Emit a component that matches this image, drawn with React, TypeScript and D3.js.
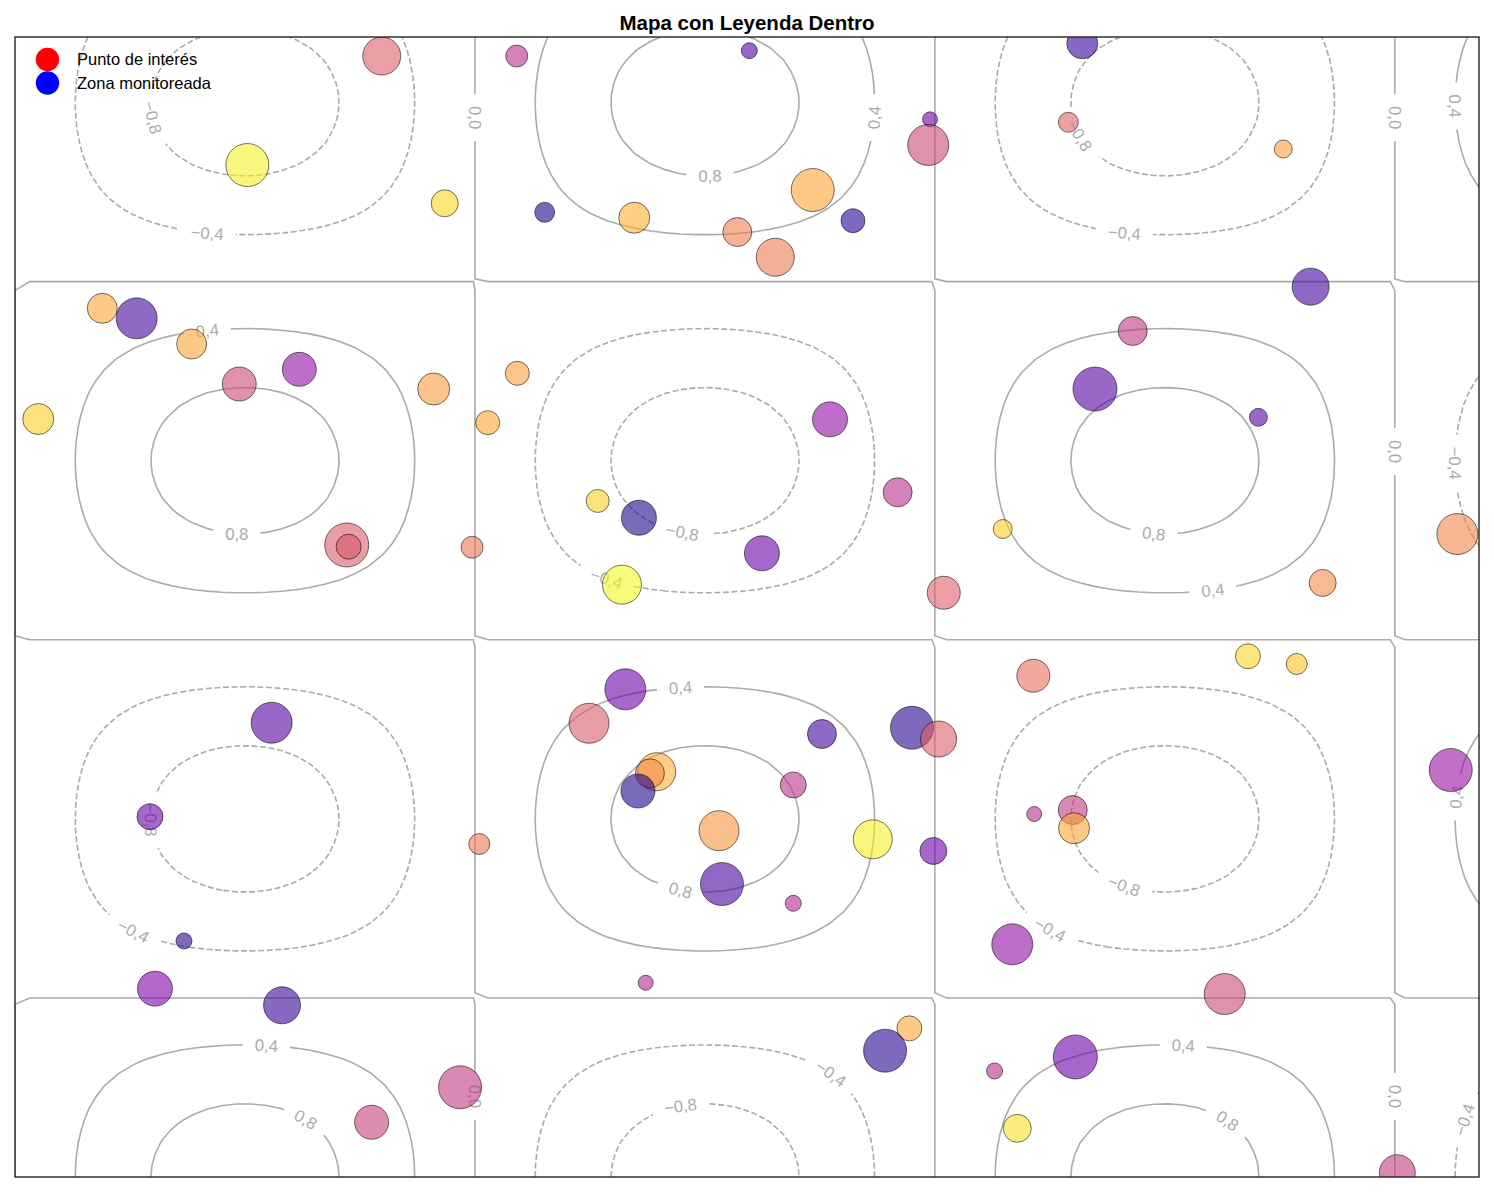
import React, { useMemo } from "react";
import * as d3 from "d3";

// ---------- data ----------
const chartTitle = "Mapa con Leyenda Dentro";
const contourLevels = [-0.8, -0.4, 0, 0.4, 0.8];
const gridCount = 100;
const domainX: [number, number] = [0, 10];
const domainY: [number, number] = [0, 10];
const field = (x: number, y: number) => Math.sin(x) * Math.cos(y);

// scatter points (data units), size (pt^2-like), color value (plasma 0..1)
const pointX = [
  2.505, 1.587, 2.935, 0.596, 0.831, 1.207, 1.532, 1.942, 2.86, 0.159,
  3.427, 5.016, 6.25, 6.238, 5.449, 3.618, 4.23, 4.934, 5.193, 5.724,
  3.431, 5.567, 7.29, 7.195, 8.663, 8.85, 7.635, 7.377, 8.493, 3.229,
  2.266, 2.279, 3.122, 1.753, 3.98, 4.262, 6.029, 5.102, 4.146, 6.344,
  4.169, 3.921, 5.512, 6.127, 6.309, 4.383, 4.337, 4.255, 5.316, 6.747,
  9.852, 8.932, 6.956, 8.422, 8.755, 9.807, 0.922, 3.171, 1.154, 0.956,
  1.824, 3.04, 2.436, 4.809, 4.829, 5.316, 5.859, 6.273, 4.308, 6.109,
  5.943, 6.691, 6.962, 7.225, 7.234, 6.812, 8.263, 7.243, 6.846, 9.442,
];
const pointY = [
  9.833, 8.877, 8.541, 7.62, 7.532, 7.307, 6.956, 7.085, 6.912, 6.649,
  9.833, 9.88, 9.278, 9.053, 8.658, 8.462, 8.415, 8.289, 8.068, 8.389,
  7.05, 6.646, 9.945, 9.252, 9.018, 7.81, 7.421, 6.912, 6.664, 6.617,
  5.544, 5.529, 5.524, 3.985, 5.93, 5.783, 6.006, 5.471, 5.196, 5.125,
  4.278, 3.98, 3.886, 3.941, 3.842, 3.555, 3.541, 3.386, 3.439, 5.684,
  5.64, 5.211, 4.397, 4.568, 4.5, 3.57, 3.161, 2.921, 2.07, 1.652,
  1.506, 0.787, 0.48, 3.038, 2.57, 2.401, 2.962, 2.86, 1.704, 1.304,
  1.108, 0.93, 3.184, 3.219, 3.059, 2.041, 1.605, 1.053, 0.427, 0.038,
];
const pointSize = [
  749, 958, 378, 467, 871, 467, 599, 599, 531, 498,
  251, 133, 117, 871, 958, 207, 498, 436, 749, 299,
  299, 635, 498, 207, 168, 710, 436, 1004, 168, 299,
  1004, 324, 251, 871, 274, 635, 436, 635, 788, 565,
  871, 829, 436, 958, 672, 749, 436, 599, 350, 187,
  871, 378, 565, 324, 229, 958, 350, 229, 133, 635,
  710, 958, 599, 829, 958, 133, 788, 378, 117, 324,
  958, 133, 117, 436, 498, 871, 871, 1004, 406, 672,
];
const pointColor = [
  0.58, 0.98, 0.92, 0.8, 0.1, 0.8, 0.5, 0.3, 0.77, 0.9,
  0.42, 0.15, 0.22, 0.5, 0.8, 0.02, 0.82, 0.68, 0.67, 0.05,
  0.78, 0.3, 0.08, 0.6, 0.78, 0.1, 0.45, 0.15, 0.15, 0.8,
  0.57, 0.55, 0.65, 0.15, 0.9, 0.03, 0.42, 0.2, 1.0, 0.58,
  0.2, 0.57, 0.1, 0.05, 0.58, 0.82, 0.72, 0.03, 0.43, 0.9,
  0.7, 0.72, 0.63, 0.92, 0.87, 0.32, 0.2, 0.66, 0.06, 0.25,
  0.08, 0.46, 0.48, 0.75, 0.12, 0.4, 0.98, 0.2, 0.4, 0.8,
  0.05, 0.42, 0.42, 0.45, 0.8, 0.3, 0.5, 0.2, 0.94, 0.46,
];

const legendLabels = ["Punto de interés", "Zona monitoreada"];
const legendColors = ["#ff0000", "#0000ff"];

// contour label anchors (data units) and their level
const labelLevel = [
  -0.8, -0.4, 0, 0.4, 0.8, 0.4, -0.8, -0.4, 0, 0.4,
  0.8, -0.8, -0.4, 0.4, 0.8, 0.4, 0, -0.4, -0.8, -0.4,
  0.4, 0.8, 0, 0.8, -0.4, -0.8, -0.8, -0.4, 0.4, 0.8,
  0, -0.4, 0.4,
];
const labelX = [
  0.956, 1.318, 3.142, 1.311, 4.74, 5.861, 7.295, 7.582, 9.426, 9.857,
  1.523, 4.577, 4.078, 4.542, 7.773, 8.19, 9.433, 9.85, 0.943, 0.82,
  1.714, 1.995, 3.156, 4.556, 5.581, 4.556, 7.596, 7.083, 7.978, 8.286,
  9.44, 9.891, 9.822,
];
const labelY = [
  9.272, 8.272, 9.289, 7.412, 8.772, 9.272, 9.123, 8.272, 9.289, 9.386,
  5.632, 5.64, 5.219, 4.289, 5.64, 5.14, 6.351, 6.228, 3.114, 2.14,
  1.14, 0.491, 0.693, 2.518, 0.895, 0.623, 2.535, 2.149, 1.14, 0.474,
  0.693, 0.482, 3.307,
];

// ---------- helpers ----------
type Pt = [number, number];

function traceContour(level: number): Pt[][] {
  const n = gridCount;
  const gx = d3.range(n).map((i) => domainX[0] + ((domainX[1] - domainX[0]) * i) / (n - 1));
  const gy = d3.range(n).map((j) => domainY[0] + ((domainY[1] - domainY[0]) * j) / (n - 1));
  const Z = new Float64Array(n * n);
  for (let j = 0; j < n; j++) for (let i = 0; i < n; i++) Z[j * n + i] = field(gx[i], gy[j]);
  const pts = new Map<string, Pt>();
  const hKey = (i: number, j: number) => {
    const k = `h${i}_${j}`;
    if (!pts.has(k)) {
      const za = Z[j * n + i], zb = Z[j * n + i + 1];
      const t = (level - za) / (zb - za);
      pts.set(k, [gx[i] + t * (gx[i + 1] - gx[i]), gy[j]]);
    }
    return k;
  };
  const vKey = (i: number, j: number) => {
    const k = `v${i}_${j}`;
    if (!pts.has(k)) {
      const za = Z[j * n + i], zb = Z[(j + 1) * n + i];
      const t = (level - za) / (zb - za);
      pts.set(k, [gx[i], gy[j] + t * (gy[j + 1] - gy[j])]);
    }
    return k;
  };
  const segs: [string, string][] = [];
  for (let j = 0; j < n - 1; j++) {
    for (let i = 0; i < n - 1; i++) {
      const a = Z[j * n + i], b = Z[j * n + i + 1], c = Z[(j + 1) * n + i + 1], d = Z[(j + 1) * n + i];
      const code = (a > level ? 1 : 0) | (b > level ? 2 : 0) | (c > level ? 4 : 0) | (d > level ? 8 : 0);
      if (code === 0 || code === 15) continue;
      const B = () => hKey(i, j), T = () => hKey(i, j + 1), L = () => vKey(i, j), R = () => vKey(i + 1, j);
      const centerAbove = (a + b + c + d) / 4 > level;
      switch (code) {
        case 1: case 14: segs.push([L(), B()]); break;
        case 2: case 13: segs.push([B(), R()]); break;
        case 4: case 11: segs.push([R(), T()]); break;
        case 8: case 7: segs.push([T(), L()]); break;
        case 3: case 12: segs.push([L(), R()]); break;
        case 6: case 9: segs.push([B(), T()]); break;
        case 5:
          if (centerAbove) { segs.push([B(), R()]); segs.push([T(), L()]); }
          else { segs.push([L(), B()]); segs.push([R(), T()]); }
          break;
        case 10:
          if (centerAbove) { segs.push([L(), B()]); segs.push([R(), T()]); }
          else { segs.push([B(), R()]); segs.push([T(), L()]); }
          break;
      }
    }
  }
  const adj = new Map<string, number[]>();
  segs.forEach((s, k) => s.forEach((key) => {
    if (!adj.has(key)) adj.set(key, []);
    adj.get(key)!.push(k);
  }));
  const used = new Array(segs.length).fill(false);
  const follow = (start: string) => {
    const line: Pt[] = [pts.get(start)!];
    let cur = start;
    for (;;) {
      const next = (adj.get(cur) || []).find((s) => !used[s]);
      if (next === undefined) break;
      used[next] = true;
      const [p, q] = segs[next];
      cur = p === cur ? q : p;
      line.push(pts.get(cur)!);
    }
    return line;
  };
  const out: Pt[][] = [];
  adj.forEach((list, key) => {
    if (list.length === 1 && !used[list[0]]) out.push(follow(key));
  });
  segs.forEach((s, k) => {
    if (!used[k]) out.push(follow(s[0]));
  });
  return out;
}

const fmtLevel = (v: number) => {
  const s = Math.abs(v).toFixed(1).replace(".", ",");
  return v < 0 ? "\u2212" + s : s;
};
const charW: Record<string, number> = { ",": 0.278, "\u2212": 0.584 };
const textWidth = (s: string, fs: number) =>
  s.split("").reduce((acc, ch) => acc + (charW[ch] ?? 0.556), 0) * fs;

// ---------- component ----------
export default function App() {
  const W = 1494, H = 1193;
  const plot = { x0: 15, x1: 1479, y0: 37, y1: 1177 };
  const xScale = d3.scaleLinear().domain(domainX).range([plot.x0, plot.x1]);
  const yScale = d3.scaleLinear().domain(domainY).range([plot.y1, plot.y0]);
  const rScale = (s: number) => (Math.sqrt(s) / 2) * (100 / 72);
  const labelFont = 16.7;
  const lineColor = "#ababab";

  const contours = useMemo(
    () => contourLevels.map((level) => ({ level, lines: traceContour(level) })),
    []
  );

  const lineGen = d3
    .line<Pt>()
    .x((p) => xScale(p[0]))
    .y((p) => yScale(p[1]));

  const labels = labelLevel.map((lv, k) => {
    const c = contours.find((cc) => Math.abs(cc.level - lv) < 1e-9)!;
    const tx = xScale(labelX[k]), ty = yScale(labelY[k]);
    let best = { d: Infinity, li: 0, pi: 0 };
    c.lines.forEach((line, li) =>
      line.forEach((p, pi) => {
        const dx = xScale(p[0]) - tx, dy = yScale(p[1]) - ty;
        const d = dx * dx + dy * dy;
        if (d < best.d) best = { d, li, pi };
      })
    );
    const line = c.lines[best.li];
    const p = line[best.pi];
    const p0 = line[Math.max(0, best.pi - 2)];
    const p1 = line[Math.min(line.length - 1, best.pi + 2)];
    const ddx = xScale(p1[0]) - xScale(p0[0]);
    const ddy = -(yScale(p1[1]) - yScale(p0[1]));
    let rot = (Math.atan2(ddy, ddx) * 180) / Math.PI;
    rot = Math.round(rot * 100) / 100;
    rot = (((rot + 90) % 180) + 180) % 180 - 90;
    const text = fmtLevel(lv);
    return {
      x: xScale(p[0]),
      y: yScale(p[1]),
      rot: -rot,
      text,
      w: textWidth(text, labelFont),
    };
  });

  return (
    <div style={{ position: "absolute", left: 0, top: 0 }}>
      <svg width={W} height={H} style={{ display: "block", background: "#fff" }}>
        <defs>
          <clipPath id="plotClip">
            <rect x={plot.x0} y={plot.y0} width={plot.x1 - plot.x0} height={plot.y1 - plot.y0} />
          </clipPath>
          <mask id="labelGaps" maskUnits="userSpaceOnUse" x={0} y={0} width={W} height={H}>
            <rect x={0} y={0} width={W} height={H} fill="#fff" />
            {labels.map((l, k) => (
              <rect
                key={k}
                x={-l.w / 2 - 12}
                y={-8}
                width={l.w + 24}
                height={16}
                fill="#000"
                transform={`translate(${l.x},${l.y}) rotate(${l.rot})`}
              />
            ))}
          </mask>
        </defs>
        <rect x={0} y={0} width={W} height={H} fill="#fff" />

        <g clipPath="url(#plotClip)">
          <g mask="url(#labelGaps)">
            {contours.map((c) =>
              c.lines.map((line, k) => (
                <path
                  key={`${c.level}-${k}`}
                  d={lineGen(line) || ""}
                  fill="none"
                  stroke={lineColor}
                  strokeWidth={1.6}
                  strokeDasharray={c.level < 0 ? "6 2.6" : undefined}
                />
              ))
            )}
          </g>
          {labels.map((l, k) => (
            <text
              key={k}
              transform={`translate(${l.x},${l.y}) rotate(${l.rot})`}
              textAnchor="middle"
              dy="0.36em"
              fontFamily="'Liberation Sans', Arial, sans-serif"
              fontSize={labelFont}
              fill={lineColor}
            >
              {l.text}
            </text>
          ))}
          {pointX.map((px, k) => (
            <circle
              key={k}
              cx={xScale(px)}
              cy={yScale(pointY[k])}
              r={rScale(pointSize[k])}
              fill={d3.interpolatePlasma(pointColor[k])}
              fillOpacity={0.6}
              stroke="#000"
              strokeOpacity={0.6}
              strokeWidth={0.9}
            />
          ))}
        </g>

        <rect
          x={plot.x0}
          y={plot.y0}
          width={plot.x1 - plot.x0}
          height={plot.y1 - plot.y0}
          fill="none"
          stroke="#1a1a1a"
          strokeWidth={1.33}
        />

        {legendLabels.map((lab, k) => (
          <g key={lab}>
            <circle cx={47.5} cy={59.5 + k * 23.5} r={11.7} fill={legendColors[k]} />
            <text
              x={77}
              y={59.5 + k * 23.5}
              dy="0.36em"
              fontFamily="'Liberation Sans', Arial, sans-serif"
              fontSize={16.5}
              fill="#000"
            >
              {lab}
            </text>
          </g>
        ))}

        <text
          x={(plot.x0 + plot.x1) / 2}
          y={29.5}
          textAnchor="middle"
          fontFamily="'Liberation Sans', Arial, sans-serif"
          fontWeight="bold"
          fontSize={20.5}
          fill="#000"
        >
          {chartTitle}
        </text>
      </svg>
    </div>
  );
}
